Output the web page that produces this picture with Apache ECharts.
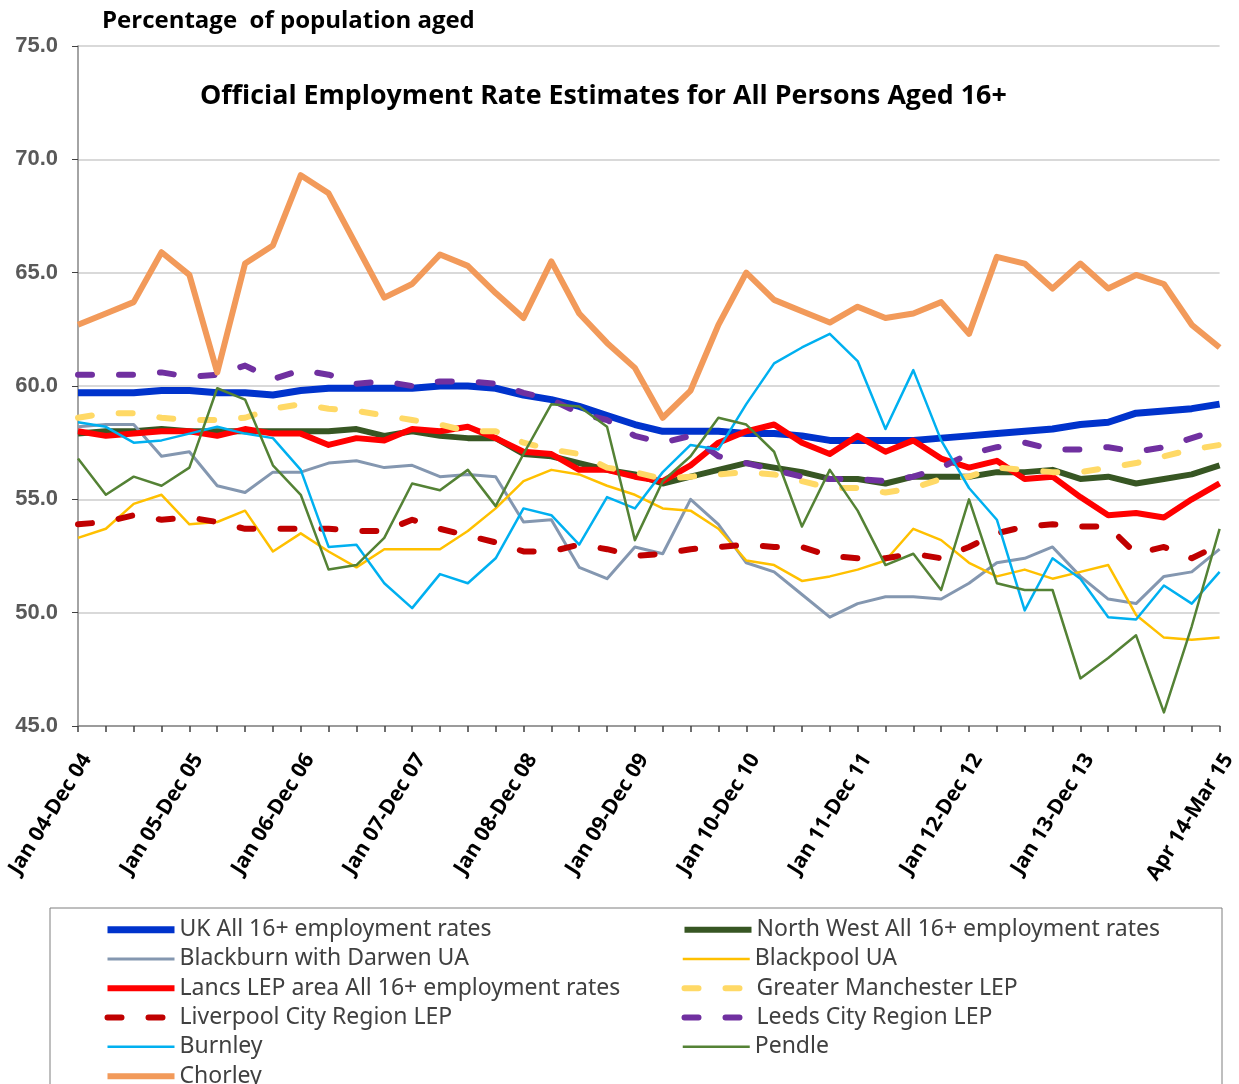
<!DOCTYPE html>
<html>

<head>
    <meta charset="utf-8">
    <title>Official Employment Rate Estimates</title>
    <script src="https://cdn.jsdelivr.net/npm/echarts@6/dist/echarts.min.js"></script>
    <style>
        html,
        body {
            margin: 0;
            padding: 0;
            background: #fff;
        }

        #main {
            width: 1239px;
            height: 1084px;
        }
    </style>
</head>

<body>
    <div id="main"></div>
    <script type="text/javascript">
        // rolling 12 month periods, quarterly
        var categories = [
            'Jan 04-Dec 04', 'Apr 04-Mar 05', 'Jul 04-Jun 05', 'Oct 04-Sep 05',
            'Jan 05-Dec 05', 'Apr 05-Mar 06', 'Jul 05-Jun 06', 'Oct 05-Sep 06',
            'Jan 06-Dec 06', 'Apr 06-Mar 07', 'Jul 06-Jun 07', 'Oct 06-Sep 07',
            'Jan 07-Dec 07', 'Apr 07-Mar 08', 'Jul 07-Jun 08', 'Oct 07-Sep 08',
            'Jan 08-Dec 08', 'Apr 08-Mar 09', 'Jul 08-Jun 09', 'Oct 08-Sep 09',
            'Jan 09-Dec 09', 'Apr 09-Mar 10', 'Jul 09-Jun 10', 'Oct 09-Sep 10',
            'Jan 10-Dec 10', 'Apr 10-Mar 11', 'Jul 10-Jun 11', 'Oct 10-Sep 11',
            'Jan 11-Dec 11', 'Apr 11-Mar 12', 'Jul 11-Jun 12', 'Oct 11-Sep 12',
            'Jan 12-Dec 12', 'Apr 12-Mar 13', 'Jul 12-Jun 13', 'Oct 12-Sep 13',
            'Jan 13-Dec 13', 'Apr 13-Mar 14', 'Jul 13-Jun 14', 'Oct 13-Sep 14',
            'Jan 14-Dec 14', 'Apr 14-Mar 15'
        ];

        var yTicks = [45, 50, 55, 60, 65, 70, 75];

        var uk = [59.7, 59.7, 59.7, 59.8, 59.8, 59.7, 59.7, 59.6, 59.8, 59.9, 59.9, 59.9, 59.9, 60.0, 60.0, 59.9, 59.6, 59.4, 59.1, 58.7, 58.3,
            58.0, 58.0, 58.0, 57.9, 57.9, 57.8, 57.6, 57.6, 57.6, 57.6, 57.7, 57.8, 57.9, 58.0, 58.1, 58.3, 58.4, 58.8, 58.9, 59.0, 59.2];
        var northWest = [57.9, 58.0, 58.0, 58.1, 58.0, 58.0, 58.0, 58.0, 58.0, 58.0, 58.1, 57.8, 58.0, 57.8, 57.7, 57.7, 57.0, 56.9, 56.6, 56.3, 56.1,
            55.7, 56.0, 56.3, 56.6, 56.4, 56.2, 55.9, 55.9, 55.7, 56.0, 56.0, 56.0, 56.2, 56.2, 56.3, 55.9, 56.0, 55.7, 55.9, 56.1, 56.5];
        var blackburn = [58.2, 58.3, 58.3, 56.9, 57.1, 55.6, 55.3, 56.2, 56.2, 56.6, 56.7, 56.4, 56.5, 56.0, 56.1, 56.0, 54.0, 54.1, 52.0, 51.5, 52.9,
            52.6, 55.0, 53.9, 52.2, 51.8, 50.8, 49.8, 50.4, 50.7, 50.7, 50.6, 51.3, 52.2, 52.4, 52.9, 51.6, 50.6, 50.4, 51.6, 51.8, 52.8];
        var blackpool = [53.3, 53.7, 54.8, 55.2, 53.9, 54.0, 54.5, 52.7, 53.5, 52.7, 52.0, 52.8, 52.8, 52.8, 53.6, 54.6, 55.8, 56.3, 56.1, 55.6, 55.2,
            54.6, 54.5, 53.7, 52.3, 52.1, 51.4, 51.6, 51.9, 52.3, 53.7, 53.2, 52.2, 51.6, 51.9, 51.5, 51.8, 52.1, 49.9, 48.9, 48.8, 48.9];
        var lancs = [58.0, 57.8, 57.9, 58.0, 58.0, 57.8, 58.1, 57.9, 57.9, 57.4, 57.7, 57.6, 58.1, 58.0, 58.2, 57.7, 57.1, 57.0, 56.3, 56.3, 56.0,
            55.8, 56.5, 57.5, 58.0, 58.3, 57.5, 57.0, 57.8, 57.1, 57.6, 56.8, 56.4, 56.7, 55.9, 56.0, 55.1, 54.3, 54.4, 54.2, 55.0, 55.7];
        var greaterManchester = [58.6, 58.8, 58.8, 58.6, 58.5, 58.5, 58.6, 59.0, 59.2, 59.0, 58.9, 58.7, 58.5, 58.3, 58.0, 58.0, 57.5, 57.2, 57.0, 56.4, 56.2,
            55.9, 56.0, 56.1, 56.2, 56.1, 55.8, 55.5, 55.5, 55.3, 55.5, 55.9, 56.0, 56.4, 56.3, 56.2, 56.2, 56.4, 56.6, 56.9, 57.2, 57.4];
        var liverpool = [53.9, 54.0, 54.3, 54.1, 54.2, 54.0, 53.7, 53.7, 53.7, 53.7, 53.6, 53.6, 54.1, 53.7, 53.4, 53.1, 52.7, 52.7, 53.0, 52.8, 52.5,
            52.6, 52.8, 52.9, 53.0, 52.9, 52.9, 52.5, 52.4, 52.4, 52.6, 52.4, 52.9, 53.5, 53.8, 53.9, 53.8, 53.8, 52.6, 52.9, 52.4, 53.0];
        var leeds = [60.5, 60.5, 60.5, 60.6, 60.4, 60.5, 60.9, 60.3, 60.7, 60.5, 60.1, 60.2, 60.0, 60.2, 60.2, 60.1, 59.7, 59.4, 58.8, 58.5, 57.8,
            57.5, 57.8, 56.9, 56.6, 56.3, 56.0, 55.9, 55.9, 55.8, 56.0, 56.4, 57.0, 57.3, 57.5, 57.2, 57.2, 57.3, 57.1, 57.3, 57.7, 58.1];
        var burnley = [58.4, 58.2, 57.5, 57.6, 57.9, 58.2, 57.9, 57.7, 56.3, 52.9, 53.0, 51.3, 50.2, 51.7, 51.3, 52.4, 54.6, 54.3, 53.0, 55.1, 54.6,
            56.2, 57.4, 57.2, 59.2, 61.0, 61.7, 62.3, 61.1, 58.1, 60.7, 57.6, 55.5, 54.1, 50.1, 52.4, 51.5, 49.8, 49.7, 51.2, 50.4, 51.8];
        var pendle = [56.8, 55.2, 56.0, 55.6, 56.4, 59.9, 59.4, 56.5, 55.2, 51.9, 52.1, 53.3, 55.7, 55.4, 56.3, 54.7, 57.0, 59.2, 59.1, 58.2, 53.2,
            55.8, 56.9, 58.6, 58.3, 57.1, 53.8, 56.3, 54.5, 52.1, 52.6, 51.0, 55.0, 51.3, 51.0, 51.0, 47.1, 48.0, 49.0, 45.6, 49.4, 53.7];
        var chorley = [62.7, 63.2, 63.7, 65.9, 64.9, 60.6, 65.4, 66.2, 69.3, 68.5, 66.2, 63.9, 64.5, 65.8, 65.3, 64.1, 63.0, 65.5, 63.2, 61.9, 60.8,
            58.6, 59.8, 62.7, 65.0, 63.8, 63.3, 62.8, 63.5, 63.0, 63.2, 63.7, 62.3, 65.7, 65.4, 64.3, 65.4, 64.3, 64.9, 64.5, 62.7, 61.7];

        var dash = [14, 27];

        function line(name, data, color, width, type) {
            return {
                name: name,
                type: 'line',
                data: data,
                symbol: 'none',
                smooth: false,
                lineStyle: {
                    color: color,
                    width: width,
                    type: type || 'solid',
                    cap: type ? 'round' : 'butt',
                    join: 'round'
                },
                itemStyle: { color: color },
                emphasis: { disabled: true }
            };
        }

        var myChart = echarts.init(document.getElementById('main'), null, { renderer: 'canvas' });

        var option = {
            animation: false,
            backgroundColor: '#fff',
            title: [{
                text: 'Percentage  of population aged',
                left: 97,
                top: 4,
                textStyle: { fontFamily: 'Open Sans', fontWeight: 'bold', fontSize: 24, color: '#000' }
            }, {
                text: 'Official Employment Rate Estimates for All Persons Aged 16+',
                left: 195,
                top: 78,
                textStyle: { fontFamily: 'Open Sans', fontWeight: 'bold', fontSize: 26.8, color: '#000' }
            }],
            graphic: [{
                type: 'rect',
                shape: { x: 50, y: 908, width: 1172, height: 200 },
                style: { fill: 'none', stroke: '#7f7f7f', lineWidth: 1 },
                z: -1
            }],
            legend: {
                left: 104,
                top: 917,
                width: 1160,
                padding: 0,
                itemWidth: 67,
                itemHeight: 14,
                itemGap: 4,
                itemStyle: { opacity: 0 },
                lineStyle: { width: 'inherit' },
                textStyle: {
                    fontFamily: 'Noto Sans',
                    fontSize: 23,
                    color: '#404040',
                    width: 498,
                    lineHeight: 25.3
                }
            },
            grid: {
                left: 78,
                right: 18,
                top: 46,
                bottom: 358,
                containLabel: false
            },
            xAxis: {
                type: 'category',
                data: categories,
                boundaryGap: false,
                axisLine: { lineStyle: { color: '#868686', width: 1.5 } },
                axisTick: { show: true, interval: 0, length: 6, lineStyle: { color: '#404040', width: 1.5 } },
                axisLabel: {
                    interval: function (idx) {
                        return (idx % 4 === 0 && idx <= 36) || idx === categories.length - 1;
                    },
                    rotate: 58,
                    margin: 24,
                    align: 'right',
                    verticalAlign: 'top',
                    fontFamily: 'Open Sans',
                    fontWeight: 'bold',
                    fontSize: 21,
                    color: '#000'
                },
                splitLine: { show: false }
            },
            yAxis: {
                type: 'value',
                min: yTicks[0],
                max: yTicks[yTicks.length - 1],
                interval: 5,
                axisLine: { show: true, lineStyle: { color: '#868686', width: 1.5 } },
                axisTick: { show: true, length: 6, lineStyle: { color: '#404040' } },
                axisLabel: {
                    margin: 20,
                    fontFamily: 'Liberation Sans',
                    fontWeight: 'bold',
                    fontSize: 22,
                    color: '#595959',
                    formatter: function (v) { return v.toFixed(1); }
                },
                splitLine: { show: true, lineStyle: { color: '#d9d9d9', width: 2 } }
            },
            series: [
                line('UK All 16+ employment rates', uk, '#0033cc', 7),
                line('North West All 16+ employment rates', northWest, '#375623', 6),
                line('Blackburn with Darwen UA', blackburn, '#8497b0', 3),
                line('Blackpool UA', blackpool, '#ffc000', 2.5),
                line('Lancs LEP area All 16+ employment rates', lancs, '#ff0000', 6),
                line('Greater Manchester LEP', greaterManchester, '#ffd966', 6, dash),
                line('Liverpool City Region LEP', liverpool, '#c00000', 6, dash),
                line('Leeds City Region LEP', leeds, '#7030a0', 6, dash),
                line('Burnley', burnley, '#00b0f0', 2.5),
                line('Pendle', pendle, '#548235', 2.5),
                line('Chorley', chorley, '#f29a5a', 6)
            ]
        };

        myChart.setOption(option);
    </script>
</body>

</html>
